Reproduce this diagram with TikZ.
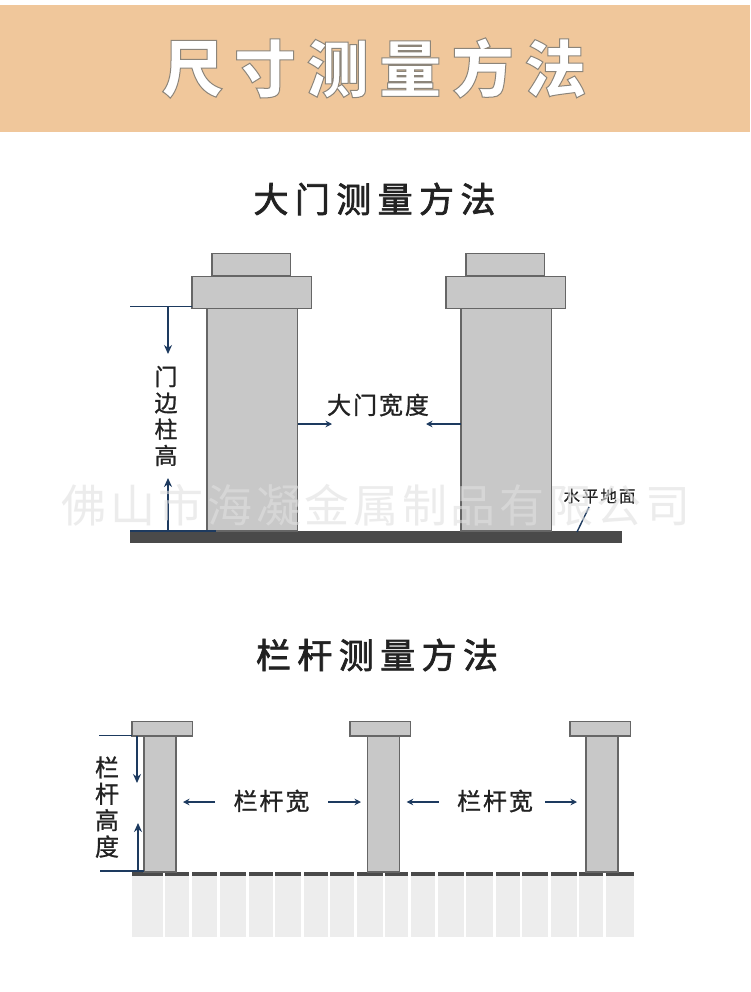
\documentclass[tikz,border=0pt]{standalone}
\usepackage{fontspec}
\usetikzlibrary{arrows.meta}
\newfontfamily\cjk[FakeBold=1]{Noto Sans CJK SC}
\newfontfamily\cjksmall[FakeBold=0.5]{Noto Sans CJK SC}
\newfontfamily\cjkwide[LetterSpace=17]{Noto Sans CJK SC Black}
\newfontfamily\cjktitle[LetterSpace=18.3,FakeBold=2]{Noto Sans CJK SC}
\newfontfamily\cjkmark[LetterSpace=8.2]{Noto Sans CJK SC}
\newfontfamily\cjklabel[LetterSpace=8,FakeBold=1]{Noto Sans CJK SC}
\definecolor{banner}{HTML}{F0C79B}
\definecolor{pillar}{HTML}{C8C8C8}
\definecolor{pillaredge}{HTML}{666666}
\definecolor{ground}{HTML}{4A4A4A}
\definecolor{tile}{HTML}{EDEDED}
\definecolor{navy}{HTML}{1D3A5F}
\definecolor{ink}{HTML}{222222}
\tikzset{
  pt/.style={inner sep=0pt,outer sep=0pt},
  block/.style={pt,draw=pillaredge,fill=pillar,line width=1.3pt,anchor=north west},
  slab/.style={pt,fill=ground,anchor=north west},
  tilebox/.style={pt,fill=tile,anchor=north west},
  dimline/.style={draw=navy,line width=1.4pt},
  dimarrow/.style={draw=navy,line width=1.4pt,-{Stealth[length=6.5pt,width=6.5pt]}},
  bigarrow/.style={draw=navy,line width=1.4pt,-{Stealth[length=9pt,width=8pt]}},
  sectitle/.style={pt,text=ink,font=\cjktitle\fontsize{35}{35}\selectfont},
  lab/.style={pt,text=ink,font=\cjklabel\fontsize{24}{24}\selectfont},
  vlab/.style={pt,text=ink,align=center,font=\cjk\fontsize{23}{26.3}\selectfont},
}
\begin{document}
\begin{tikzpicture}[x=1pt,y=-1pt]
\useasboundingbox (0,0) rectangle (750,992);
\fill[white] (0,0) rectangle (750,992);
% banner
\node[pt,fill=banner,minimum width=750pt,minimum height=127pt,anchor=north west] (banner) at (0,5) {};
\node[pt,text=white,font=\cjkwide\fontsize{62}{62}\selectfont] (title) at (374,68)
  {\special{pdf:code q 2 Tr 0.55 0.52 0.48 RG 1 w}尺寸测量方法\special{pdf:code Q}};
% gate
\node[sectitle] (gatetitle) at (374.5,199) {大门测量方法};
\node[slab,minimum width=492pt,minimum height=12pt] (gateground) at (130,531) {};
\foreach \n/\dx in {a/0,b/254}{
  \node[block,minimum width=78.5pt,minimum height=22.5pt] (gatetop\n) at (212+\dx,253.5) {};
  \node[block,minimum width=119.5pt,minimum height=32pt] (gatecap\n) at (192+\dx,276.5) {};
  \node[block,minimum width=90.5pt,minimum height=222.5pt] (gateshaft\n) at (207+\dx,308.5) {};
}
\coordinate (t1) at (130,306.5);
\coordinate (t2) at (168,306.5);
\coordinate (t3) at (168,354);
\coordinate (b1) at (130,531);
\coordinate (b2) at (216,531);
\coordinate (b3) at (168,531);
\coordinate (b4) at (168,478);
\coordinate (w1) at (298,424);
\coordinate (w2) at (332,424);
\coordinate (w3) at (461,424);
\coordinate (w4) at (426,424);
\coordinate (g1) at (589,507);
\coordinate (g2) at (577,532);
\draw[dimline] (t1) -- (gatecapa.west |- t1);
\draw[bigarrow] (t2) -- (t3);
\draw[dimline] (b1) -- (b2);
\draw[bigarrow] (b3) -- (b4);
\draw[dimarrow] (w1) -- (w2);
\draw[dimarrow] (w3) -- (w4);
\draw[dimline] (g1) -- (g2);
\node[vlab] (gatehigh) at (166,416) {门\\边\\柱\\高};
\node[lab] (gatewide) at (378,405) {大门宽度};
\node[pt,text=ink,font=\cjksmall\fontsize{16.5}{17}\selectfont] (level) at (599.5,496) {水\hspace{2pt}平\hspace{2pt}地\hspace{2pt}面};
% railing
\node[sectitle] (railtitle) at (377,655) {栏杆测量方法};
\foreach \a/\b [count=\i] in {132/162.7,165/189,191.7/217.3,220/246,248.7/272.7,275.3/301,303.7/327.7,330.3/354.3,357/382.7,385.3/408.3,411/435,437.7/463.7,466.3/493,495.7/519.7,522.3/548.3,551/576.7,579.3/603.3,606/634}{
  \pgfmathsetmacro{\w}{\b-\a}
  \node[tilebox,minimum width=\w pt,minimum height=61pt] (tile\i) at (\a,876) {};
  \node[slab,minimum width=\w pt,minimum height=4pt] (strip\i) at (\a,872) {};
}
\foreach \n/\cx/\sx in {a/132/144,b/350/367.5,c/570/586}{
  \node[block,minimum width=60.5pt,minimum height=14.5pt] (railcap\n) at (\cx,721.5) {};
  \node[block,line width=1.5pt,minimum width=32pt,minimum height=135.5pt] (railshaft\n) at (\sx,736.5) {};
}
\coordinate (rt1) at (99,735.5);
\coordinate (rt2) at (137,736);
\coordinate (rt3) at (137,783);
\coordinate (rb1) at (100,871);
\coordinate (rb2) at (138,872);
\coordinate (rb3) at (138,823);
\coordinate (ra1) at (215,802);
\coordinate (ra2) at (183,802);
\coordinate (ra3) at (328,802);
\coordinate (ra4) at (361,802);
\coordinate (ra5) at (438.7,802);
\coordinate (ra6) at (406.7,802);
\coordinate (ra7) at (545,802);
\coordinate (ra8) at (577,802);
\draw[dimline] (rt1) -- (railcapa.west |- rt1);
\draw[dimline] (rb1) -- (railshafta.west |- rb1);
\draw[bigarrow] (rt2) -- (rt3);
\draw[bigarrow] (rb2) -- (rb3);
\draw[dimarrow] (ra1) -- (ra2);
\draw[dimarrow] (ra3) -- (ra4);
\draw[dimarrow] (ra5) -- (ra6);
\draw[dimarrow] (ra7) -- (ra8);
\node[vlab,font=\cjk\fontsize{24}{26.4}\selectfont] (railhigh) at (107,807) {栏\\杆\\高\\度};
\node[lab] (railwidea) at (271.5,801) {栏杆宽};
\node[lab] (railwideb) at (495,801) {栏杆宽};
% watermark
\node[pt,text=black!12,text opacity=0.6,font=\cjkmark\fontsize{45}{45}\selectfont] (mark) at (376,505) {佛山市海凝金属制品有限公司};
\end{tikzpicture}
\end{document}
